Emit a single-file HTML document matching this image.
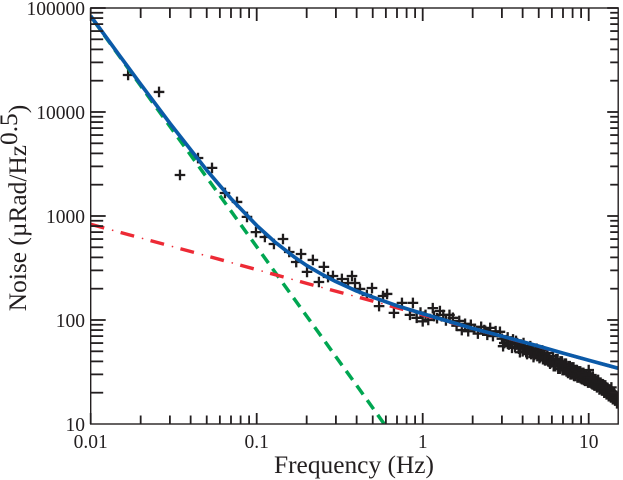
<!DOCTYPE html>
<html>
<head>
<meta charset="utf-8">
<title>Noise vs Frequency</title>
<style>
html,body{margin:0;padding:0;background:#fff;}
#chart{display:block;width:623px;height:480px;}
text{font-family:"Liberation Serif",serif;fill:#231f20;}
</style>
</head>
<body>
<svg id="chart" width="623" height="480" viewBox="0 0 623 480" xmlns="http://www.w3.org/2000/svg">
<defs><clipPath id="plot-clip"><rect x="90.7" y="8" width="527.5" height="416"/></clipPath></defs>
<g id="marks" clip-path="url(#plot-clip)"></g>
<g id="axes"></g>
<text x="354" y="473" text-anchor="middle" font-size="25.4">Frequency (Hz)</text>
<text transform="translate(26,208) rotate(-90)" text-anchor="middle" font-size="25.4">Noise (µRad/Hz<tspan dy="-9">0.5</tspan><tspan dy="9">)</tspan></text>
</svg>
<script>
const xTickValues = [0.01, 0.1, 1, 10];
const xTickLabels = ["0.01", "0.1", "1", "10"];
const yTickValues = [10, 100, 1000, 10000, 100000];
const yTickLabels = ["10", "100", "1000", "10000", "100000"];
const xMinorMultipliers = [2, 3, 4, 5, 6, 7, 8, 9];

const measuredFrequency = [
0.0168,0.0258,0.0345,0.0443,0.0538,0.0644,0.0761,0.0874,0.099,0.112,0.127,0.144,0.157,0.173,0.185,0.201,0.218,0.237,0.254,0.269,0.288,0.326,0.355,0.375,0.391,0.419,0.461,0.495,0.546,0.577,0.61,0.671,0.75,0.838,0.873,
0.92,0.97,1.0,1.04,1.08,1.15,1.17,1.22,1.27,1.33,1.38,1.45,1.52,1.6,1.66,1.72,1.8,1.88,1.95,2.05,2.15,2.25,2.35,2.45,2.55,2.65,2.75,2.92,
3.0,3.1,3.2,3.3,3.4,3.5,3.6,3.7,3.8,3.9,4.0,4.1,4.2,4.3,4.4,4.5,4.6,4.7,4.8,4.9,5.0,5.1,5.2,5.3,5.4,5.5,5.6,5.7,5.8,5.9,6.0,6.2,6.4,6.6,6.8,7.0,7.2,7.4,7.6,7.8,8.0,8.2,8.4,8.6,8.8,9.0,9.2,9.4,9.6,9.8,10,10.1,10.3,10.5,10.7,10.9,11.1,11.3,11.5,11.7,11.9,12.1,12.3,12.5,12.7,12.9,13.1,13.3,13.5,13.7,13.9,14.1,14.3,14.5,14.7,14.9,15,
3.05,3.25,3.45,3.65,3.85,4.05,4.25,4.45,4.65,4.85,5.05,5.25,5.45,5.65,5.85,6.1,6.3,6.5,6.7,6.9,7.1,7.3,7.5,7.7,7.9,8.1,8.3,8.5,8.7,8.9,9.1,9.3,9.5,9.7,9.9,10.2,10.4,10.6,10.8,11,11.2,11.4,11.6,11.8,12,12.2,12.4,12.6,12.8,13,13.2,13.4,13.6,13.8,14,14.2,14.4,14.6,14.8,
6.15,6.35,6.55,6.75,6.95,7.15,7.35,7.55,7.75,7.95,8.15,8.35,8.55,8.75,8.95,9.15,9.35,9.55,9.75,9.95,10.15,10.35,10.55,10.75,10.95,11.15,11.35,11.55,11.75,11.95,12.15,12.35,12.55,12.75,12.95,13.15,13.35,13.55,13.75,13.95,14.15,14.35,14.55,14.75,14.95
];
const measuredNoise = [
22700,15600,2480,3610,2900,1665,1365,980,700,628,538,601,451,361,431,290,378,232,324,259,265,248,227,265,227,199,174,203,136,170,178,117,146,112,146,
105,118,97,112,100,130,109,104,122,112,99,112,105,88,98,80,92,78,90,82,74,86,80,72,84,70,78,77,
66,60,64,58,62,65,55,60,53,58,50,56,49,54,51,47,52,46,50,45,48,44,47,42,45,41,44,40,43,39,41,38,40,36,38,35,37,33,35,32,34,31,32,30,31,29,30,28,29,27,33,27,26,27,25,26,24,25,23,24,22.5,23,21.5,22,20.5,21,20,20.5,19,22.5,18.5,19,18,17.5,17,16.5,16,
56,68,54,63,49,60,47,56,44,53,43,51,41,48,38,45,36,42,34,40,33,38,31,36,30,35,29,33,28,32,27,31,26,30,25,29,24.5,28.5,23.5,27,22.5,26.5,21.5,25,21,24,20,23.5,19.3,22.2,18.5,21.3,18,20.5,17.3,19.6,16.8,18.4,15.8,
36,42,34,40,33,38,32,36,30,35,29,33,28,32,27.5,31,26.5,30,26,28,25,28,24,27,23.5,26,23,25,22,24,21,23.5,20.5,22.5,19.5,21.5,19,21,18.5,20,17.5,19,17,18,16.2
];

const greenFrequency = [0.01,0.015,0.02,0.03,0.05,0.07,0.1,0.13,0.17,0.2,0.25,0.3,0.4,0.5,0.6];
const greenValues = [83000,33800,17870,7270,2350,1115,506,283,156,109,66.6,44.3,23.5,14.3,9.5];

const redFrequency = [0.01,0.02,0.05,0.1,0.2,0.5,1,2,5,10,15];
const redValues = [832,615,414,305,225,152,112,82.8,55.7,41,34.4];

const blueFrequency = [0.01,0.015,0.02,0.03,0.05,0.07,0.1,0.13,0.17,0.2,0.25,0.3,0.4,0.5,0.7,1,1.5,2,3,5,7,10,15];
const blueValues = [83800,34500,18500,7790,2760,1470,811,555,399,334,272,234,190,166,137,115,95,83,70,56,48,41,34.4];

const NS = "http://www.w3.org/2000/svg";
const LEFT = 90.7, RIGHT = 618.2, TOP = 8, BOTTOM = 424;
const X_DECADE = 166, Y_DECADE = 104;
function xScale(f) { return LEFT + (Math.log10(f) + 2) * X_DECADE; }
function yScale(v) { return BOTTOM - (Math.log10(v) - 1) * Y_DECADE; }

function make(parent, tag, attrs) {
  const el = document.createElementNS(NS, tag);
  for (const k in attrs) el.setAttribute(k, attrs[k]);
  parent.appendChild(el);
  return el;
}

const axes = document.getElementById("axes");
const marks = document.getElementById("marks");

const frame = make(axes, "rect", {x: LEFT, y: TOP, width: RIGHT - LEFT, height: BOTTOM - TOP, fill: "none", stroke: "#231f20", "stroke-width": 1.4});



function tick(x1, y1, x2, y2, w, name) {
  const t = make(axes, "line", {x1: x1, y1: y1, x2: x2, y2: y2, stroke: "#231f20", "stroke-width": w});
  
  
}

xTickValues.forEach(function (d, i) {
  const x = xScale(d);
  tick(x, BOTTOM, x, BOTTOM - 11, 1.8, "x-major-tick");
  tick(x, TOP, x, TOP + 13, 1.8, "x-major-tick-top");
  const label = make(axes, "text", {x: x, y: 448, "text-anchor": "middle", "font-size": 19.5});
  label.textContent = xTickLabels[i];
  
  
  xMinorMultipliers.forEach(function (m) {
    const fx = xScale(d * m);
    if (fx < RIGHT) {
      tick(fx, BOTTOM, fx, BOTTOM - 8.5, 1.8, "x-minor-tick");
      tick(fx, TOP, fx, TOP + 10, 1.8, "x-minor-tick-top");
    }
  });
});

yTickValues.forEach(function (d, i) {
  const y = yScale(d);
  if (d > 10) {
    tick(LEFT, y, LEFT + 15, y, 1.8, "y-major-tick");
    tick(RIGHT, y, RIGHT - 11, y, 1.8, "y-major-tick-right");
  }
  const label = make(axes, "text", {x: 85, y: y + 7, "text-anchor": "end", "font-size": 19.5});
  label.textContent = yTickLabels[i];
  
  
  if (d < 100000) {
    xMinorMultipliers.forEach(function (m) {
      const fy = yScale(d * m);
      tick(LEFT, fy, LEFT + 12.5, fy, 1.8, "y-minor-tick");
      tick(RIGHT, fy, RIGHT - 8, fy, 1.8, "y-minor-tick-right");
    });
  }
});

measuredFrequency.forEach(function (f, i) {
  const x = xScale(f), y = yScale(measuredNoise[i]);
  const p = make(marks, "path", {d: "M" + (x - 5.3) + " " + y + "H" + (x + 5.3) + "M" + x + " " + (y - 5.3) + "V" + (y + 5.3), stroke: "#1f1c1d", "stroke-width": 2.3, fill: "none"});
  
  
});

function linePoints(fs, vs) {
  return fs.map(function (f, i) { return xScale(f) + "," + yScale(vs[i]); }).join(" ");
}

const green = make(marks, "polyline", {points: linePoints(greenFrequency, greenValues), fill: "none", stroke: "#00a651", "stroke-width": 3.5, "stroke-dasharray": "11 7", "stroke-dashoffset": "-5"});



const redDash = make(marks, "polyline", {points: linePoints(redFrequency, redValues), fill: "none", stroke: "#ed2a35", "stroke-width": 3.4, "stroke-dasharray": "14 17"});



const redDot = make(marks, "polyline", {points: linePoints(redFrequency, redValues), fill: "none", stroke: "#ed2a35", "stroke-width": 1.5, "stroke-dasharray": "1.5 29.5", "stroke-dashoffset": "-22"});



const blue = make(marks, "polyline", {points: linePoints(blueFrequency, blueValues), fill: "none", stroke: "#0b5aa8", "stroke-width": 3.7, "stroke-linejoin": "round"});


</script>
</body>
</html>
